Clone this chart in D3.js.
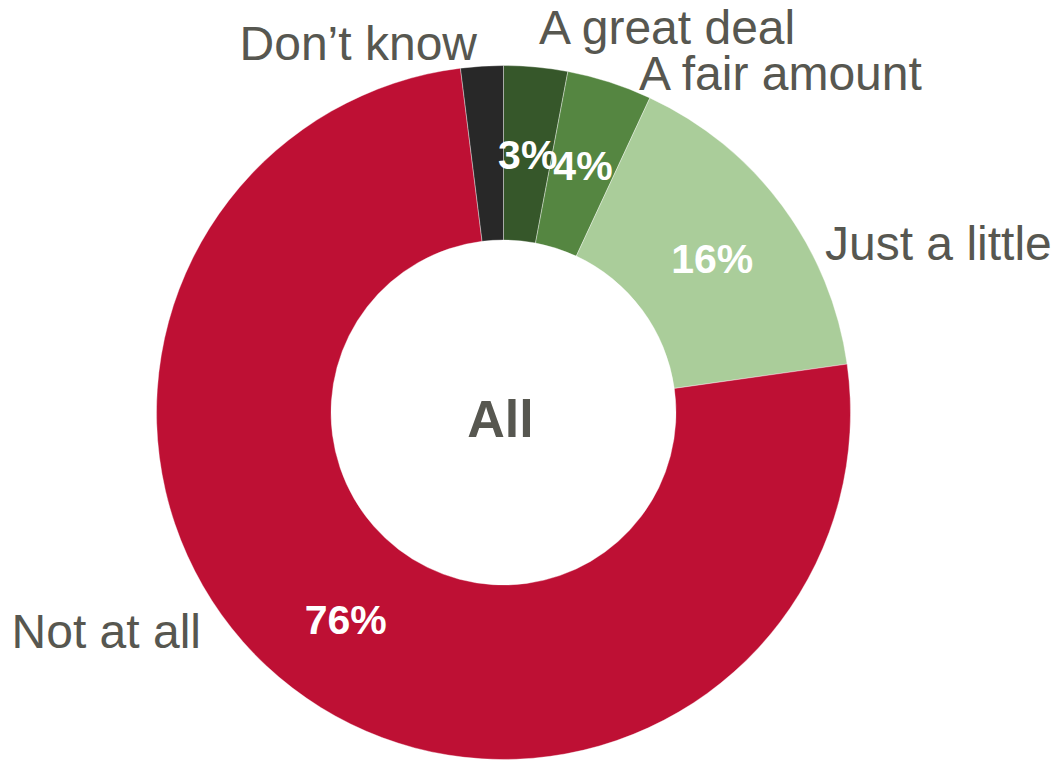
<!DOCTYPE html>
<html>
<head>
<meta charset="utf-8">
<script src="https://cdn.jsdelivr.net/npm/d3@7"></script>
<style>
  html, body { margin: 0; padding: 0; background: #fff; }
  svg { display: block; font-family: "Liberation Sans", Arial, sans-serif; }
</style>
</head>
<body>
<svg id="chart" width="1053" height="761"></svg>
<script>
// Responses, clockwise from twelve o'clock
const categories = ["A great deal", "A fair amount", "Just a little", "Not at all", "Don\u2019t know"];
const values = [3, 4, 16, 76, 2];
const valueLabels = ["3%", "4%", "16%", "76%", ""];
const colors = ["#36572a", "#558641", "#aacd9a", "#be1034", "#282828"];
const centerTitle = "All";

// Category label placement (x, baseline y, anchor)
const labelLayout = [
  { x: 539, y: 44, anchor: "start" },
  { x: 639, y: 90, anchor: "start" },
  { x: 825, y: 260, anchor: "start" },
  { x: 201, y: 648, anchor: "end" },
  { x: 477, y: 60, anchor: "end" }
];

const svg = d3.select("#chart");
const cx = 503.5, cy = 412.5;
const outerR = 347, innerR = 172.5;

const pie = d3.pie().sort(null).value(d => d.value);
const arc = d3.arc().innerRadius(innerR).outerRadius(outerR);

const data = categories.map((c, i) => ({ name: c, value: values[i], label: valueLabels[i], color: colors[i], layout: labelLayout[i] }));
const arcs = pie(data);

const g = svg.append("g").attr("transform", `translate(${cx},${cy})`);

g.selectAll("path.slice")
  .data(arcs)
  .enter().append("path")
  .attr("class", "slice")
  .attr("d", arc)
  .attr("fill", d => d.data.color)
  .attr("stroke", "#ffffff")
  .attr("stroke-opacity", 0.5)
  .attr("stroke-width", 0.75);

// Percent labels at each slice centroid
g.selectAll("text.pct")
  .data(arcs.filter(d => d.data.label))
  .enter().append("text")
  .attr("class", "pct")
  .attr("x", d => arc.centroid(d)[0])
  .attr("y", d => arc.centroid(d)[1])
  .attr("text-anchor", "middle")
  .attr("dy", "0.36em")
  .attr("fill", "#ffffff")
  .attr("font-weight", "bold")
  .attr("font-size", 41)
  .text(d => d.data.label);

// Centre title
g.append("text")
  .attr("x", -3)
  .attr("y", 6)
  .attr("dy", "0.36em")
  .attr("text-anchor", "middle")
  .attr("font-weight", "bold")
  .attr("font-size", 52)
  .attr("fill", "#575750")
  .text(centerTitle);

// Category names outside the ring
svg.selectAll("text.cat")
  .data(data)
  .enter().append("text")
  .attr("class", "cat")
  .attr("x", d => d.layout.x)
  .attr("y", d => d.layout.y)
  .attr("text-anchor", d => d.layout.anchor)
  .attr("font-size", 48)
  .attr("fill", "#575750")
  .text(d => d.name);
</script>
</body>
</html>
